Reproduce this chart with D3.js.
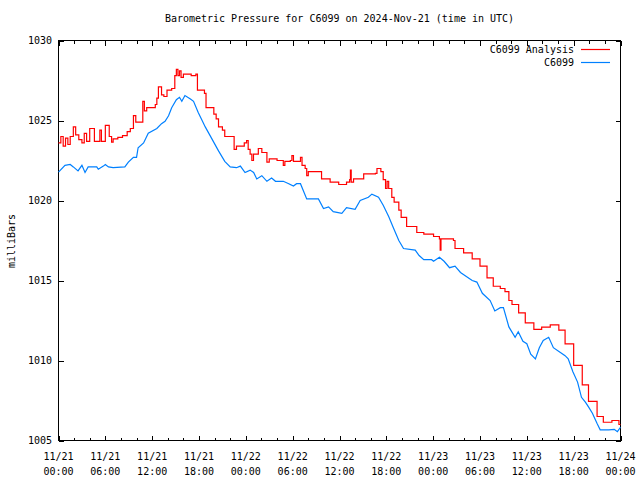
<!DOCTYPE html>
<html>
<head>
<meta charset="utf-8">
<script src="https://cdn.jsdelivr.net/npm/d3@7"></script>
<style>
  html, body { margin: 0; padding: 0; background: #fff; }
  svg { display: block; }
  text { font-family: "DejaVu Sans Mono", "Liberation Mono", monospace; font-size: 10px; fill: #000; }
</style>
</head>
<body>
<svg id="chart" width="640" height="480"></svg>
<script>
// ---------- data ----------
const titleText = "Barometric Pressure for C6099 on 2024-Nov-21 (time in UTC)";
const yLabel = "milliBars";
const seriesNames = ["C6099 Analysis", "C6099"];
const seriesColors = ["#ff0000", "#0080ff"];

// hours since 2024-11-21 00:00 UTC
const analysisHours = [0,0.3,0.6,0.9,1.2,1.5,1.9,2.2,2.6,3.0,3.3,3.6,4.0,4.6,5.3,5.5,6.0,6.5,6.8,7.0,7.6,8.2,8.8,9.2,9.6,9.9,10.5,10.8,11.0,11.3,12.4,12.6,12.8,13.2,13.5,13.9,14.5,14.9,15.1,15.3,15.5,15.7,16.0,17.0,17.6,17.8,18.7,18.9,19.9,20.2,20.5,21.0,21.3,22.5,22.8,23.8,24.1,24.3,24.55,24.77,24.98,25.6,26.05,26.7,27.0,28.0,28.8,29.0,29.7,29.9,30.1,31.0,31.2,31.6,31.8,32.0,33.7,34.8,35.9,36.9,37.3,37.4,37.5,37.8,39.1,40.6,40.8,41.3,41.6,41.9,42.1,42.3,42.7,43.0,43.6,43.9,44.6,45.9,46.8,48.05,48.8,48.9,49.0,50.6,50.8,51.9,53.0,54.0,54.9,55.7,56.6,57.2,57.7,58.1,58.95,59.8,60.9,61.9,63.0,64.1,64.9,66.0,67.1,67.9,69.0,69.8,70.9,71.8,72];
const analysisValues = [1023.6,1024.0,1023.4,1023.9,1023.5,1024.0,1024.6,1024.1,1023.8,1023.6,1024.2,1023.7,1024.5,1023.7,1024.4,1023.7,1024.7,1024.0,1023.65,1023.85,1023.95,1024.05,1024.3,1024.5,1025.3,1024.9,1024.9,1026.2,1025.6,1025.8,1026.0,1026.4,1027.1,1026.6,1026.5,1026.9,1027.0,1027.8,1028.2,1027.8,1028.1,1027.7,1027.9,1027.8,1027.9,1026.9,1026.7,1025.8,1025.4,1025.1,1024.6,1024.4,1024.0,1023.2,1023.4,1023.6,1023.75,1023.2,1022.9,1022.5,1022.9,1023.25,1023.0,1022.4,1022.6,1022.5,1022.2,1022.45,1022.5,1022.8,1022.45,1022.7,1022.2,1022.0,1021.55,1021.8,1021.35,1021.15,1021.0,1021.15,1021.3,1021.9,1021.15,1021.35,1021.67,1021.7,1022.0,1021.8,1021.3,1020.75,1021.2,1020.75,1020.2,1019.9,1019.4,1018.95,1018.375,1018.0,1017.9,1017.75,1017.6,1016.9,1017.6,1017.5,1017.0,1016.73,1016.35,1015.9,1015.17,1014.64,1014.5,1014.3,1013.75,1013.5,1012.98,1012.35,1011.94,1012.08,1012.23,1011.9,1011.04,1009.7,1008.48,1007.44,1006.5,1006.14,1006.25,1006.0,1006.0];

const stationHours = [0,0.83,1.5,1.9,2.5,3.0,3.4,3.8,4.9,5.1,5.75,6.0,6.4,7.0,8.5,8.95,9.6,10.0,10.2,10.9,11.5,12.6,13.2,13.65,14.1,14.5,15.1,15.5,15.8,16.2,16.9,17.3,17.9,18.4,18.8,19.6,20.5,21.3,22.0,22.8,23.3,23.9,24.55,25.0,25.4,26.05,26.7,27.3,27.8,28.8,29.5,30.1,30.5,31.0,31.8,32.7,33.3,33.95,34.6,35.2,36.3,36.9,38.0,38.65,39.7,40.15,41.0,41.6,42.3,42.9,43.6,44.2,45.7,46.2,46.8,47.8,48.05,48.8,49.4,50.1,50.8,51.5,53.0,53.6,54.3,55.3,55.9,56.6,57.0,57.7,58.5,58.9,59.5,60.0,60.5,61.1,61.6,62.1,62.8,63.4,64.3,64.9,65.3,65.9,66.5,67.0,67.5,67.9,68.4,69.0,69.4,70.5,71.2,71.6,72];
const stationValues = [1021.77,1022.2,1022.25,1022.1,1021.85,1022.2,1021.75,1022.1,1022.1,1021.95,1022.15,1022.25,1022.1,1022.05,1022.1,1022.4,1022.7,1022.7,1023.3,1023.6,1024.2,1024.5,1024.8,1024.95,1025.3,1025.8,1026.3,1026.45,1026.2,1026.56,1026.35,1026.2,1025.5,1025.0,1024.6,1023.9,1023.1,1022.45,1022.1,1022.05,1022.15,1021.75,1021.9,1021.75,1021.35,1021.55,1021.2,1021.4,1021.2,1021.2,1021.05,1020.9,1021.05,1021.05,1020.1,1020.1,1020.1,1019.5,1019.6,1019.3,1019.2,1019.55,1019.45,1020.0,1020.2,1020.4,1020.2,1019.7,1019.0,1018.3,1017.5,1017.0,1016.9,1016.56,1016.3,1016.3,1016.2,1016.45,1016.2,1015.8,1015.9,1015.5,1015.0,1014.9,1014.2,1013.75,1013.1,1013.3,1013.3,1012.1,1011.45,1011.8,1011.2,1011.05,1010.4,1010.1,1010.8,1011.25,1011.45,1010.8,1010.5,1010.3,1010.1,1009.3,1008.65,1007.7,1007.4,1007.1,1006.7,1006.06,1005.67,1005.67,1005.7,1005.55,1005.83];

const xMajorTicks = [0,6,12,18,24,30,36,42,48,54,60,66,72];
const xTickDates = ["11/21","11/21","11/21","11/21","11/22","11/22","11/22","11/22","11/23","11/23","11/23","11/23","11/24"];
const xTickTimes = ["00:00","06:00","12:00","18:00","00:00","06:00","12:00","18:00","00:00","06:00","12:00","18:00","00:00"];
const yTicks = [1005,1010,1015,1020,1025,1030];

// ---------- layout ----------
const L = 58.5, R = 620.5, T = 40.5, B = 440.5;
const svg = d3.select("#chart");
const x = d3.scaleLinear().domain([0, 72]).range([L, R]);
const y = d3.scaleLinear().domain([1005, 1030]).range([B, T]);

const xMinor = d3.range(0, 73, 2).filter(h => h % 6 !== 0);

function styleAxis(g) {
  g.select(".domain").remove();
  g.selectAll("line").attr("stroke", "#000").attr("shape-rendering", "crispEdges");
  g.selectAll("text").remove();
}

// bottom & top major/minor ticks (inward)
svg.append("g").attr("transform", `translate(0,${B})`)
  .call(d3.axisBottom(x).tickValues(xMajorTicks).tickSize(-5)).call(styleAxis);
svg.append("g").attr("transform", `translate(0,${B})`)
  .call(d3.axisBottom(x).tickValues(xMinor).tickSize(-3)).call(styleAxis);
svg.append("g").attr("transform", `translate(0,${T})`)
  .call(d3.axisTop(x).tickValues(xMajorTicks).tickSize(-5)).call(styleAxis);
svg.append("g").attr("transform", `translate(0,${T})`)
  .call(d3.axisTop(x).tickValues(xMinor).tickSize(-3)).call(styleAxis);
// left & right ticks
svg.append("g").attr("transform", `translate(${L},0)`)
  .call(d3.axisLeft(y).tickValues(yTicks).tickSize(-5)).call(styleAxis);
svg.append("g").attr("transform", `translate(${R},0)`)
  .call(d3.axisRight(y).tickValues(yTicks).tickSize(-5)).call(styleAxis);

// border
svg.append("rect").attr("x", L).attr("y", T).attr("width", R - L).attr("height", B - T)
  .attr("fill", "none").attr("stroke", "#000").attr("shape-rendering", "crispEdges");

// y tick labels
svg.append("g").selectAll("text").data(yTicks).join("text")
  .attr("x", 52).attr("y", d => y(d)).attr("dy", "0.35em")
  .attr("text-anchor", "end").text(d => d);

// x tick labels (two lines)
const xl = svg.append("g").selectAll("text").data(xMajorTicks).join("text")
  .attr("text-anchor", "middle");
xl.append("tspan").attr("x", d => x(d)).attr("y", 460).text((d, i) => xTickDates[i]);
xl.append("tspan").attr("x", d => x(d)).attr("y", 475).text((d, i) => xTickTimes[i]);

// title
svg.append("text").attr("x", (L + R) / 2).attr("y", 22).attr("text-anchor", "middle").text(titleText);

// y-axis label
svg.append("text").attr("transform", "translate(15,241) rotate(-90)")
  .attr("text-anchor", "middle").text(yLabel);

// series
const redData = analysisHours.map((h, i) => [h, analysisValues[i]]);
const blueData = stationHours.map((h, i) => [h, stationValues[i]]);

const stepLine = d3.line().x(d => x(d[0])).y(d => y(d[1])).curve(d3.curveStepAfter);
const lin = d3.line().x(d => x(d[0])).y(d => y(d[1]));

svg.append("path").datum(redData).attr("d", stepLine)
  .attr("fill", "none").attr("stroke", seriesColors[0]).attr("stroke-width", 1.2);
svg.append("path").datum(blueData).attr("d", lin)
  .attr("fill", "none").attr("stroke", seriesColors[1]).attr("stroke-width", 1.2);

// legend
const legendY = [49, 62];
seriesNames.forEach((name, i) => {
  svg.append("text").attr("x", 574).attr("y", legendY[i]).attr("dy", "0.35em")
    .attr("text-anchor", "end").text(name);
  svg.append("line").attr("x1", 581).attr("x2", 610).attr("y1", legendY[i] + 0.5).attr("y2", legendY[i] + 0.5)
    .attr("stroke", seriesColors[i]).attr("stroke-width", 1.2);
});
</script>
</body>
</html>
